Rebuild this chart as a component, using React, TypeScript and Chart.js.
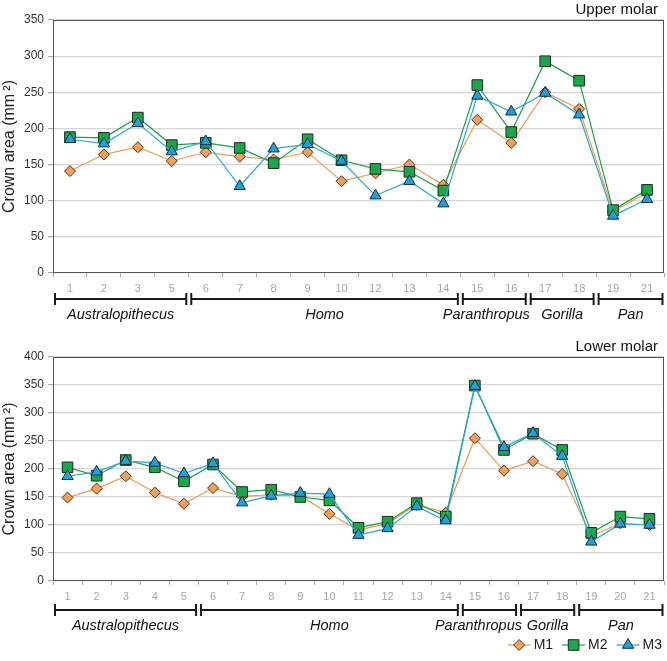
import React, { useEffect, useRef } from 'react';
import { Chart, registerables } from 'chart.js';

Chart.register(...registerables);

const FONT = "'Liberation Sans', Arial, Helvetica, sans-serif";
Chart.defaults.font.family = FONT;

// ---------- data ----------
const upperCategories = ['1', '2', '3', '5', '6', '7', '8', '9', '10', '12', '13', '14', '15', '16', '17', '18', '19', '21'];
const upperM1 = [141, 164, 174, 155, 167, 161, 157, 167, 127, 138, 150, 122, 212, 180, 250, 227, 85, 111];
const upperM2 = [188, 187, 215, 177, 180, 173, 152, 185, 156, 144, 140, 114, 260, 195, 293, 266, 87, 115];
const upperM3 = [185, 179, 207, 168, 182, 120, 172, 178, 155, 107, 127, 96, 245, 223, 249, 219, 79, 102];

const lowerCategories = ['1', '2', '3', '4', '5', '6', '7', '8', '9', '10', '11', '12', '13', '14', '15', '16', '17', '18', '19', '20', '21'];
const lowerM1 = [149, 165, 187, 158, 138, 166, 151, 154, 152, 120, 91, 103, 136, 122, 255, 197, 214, 191, 80, 103, 100];
const lowerM2 = [203, 188, 216, 203, 178, 208, 159, 163, 150, 144, 95, 106, 139, 115, 349, 234, 263, 234, 86, 115, 111];
const lowerM3 = [187, 195, 214, 211, 192, 210, 140, 152, 157, 155, 82, 94, 133, 108, 348, 239, 264, 223, 70, 102, 100];

const genusNames = ['Australopithecus', 'Homo', 'Paranthropus', 'Gorilla', 'Pan'];
const upperGenusEnds = [3, 11, 13, 15, 17];
const lowerGenusEnds = [4, 13, 15, 17, 20];

const seriesNames = ['M1', 'M2', 'M3'];
const yAxisTitle = 'Crown area (mm\u2009²)';

// ---------- styles ----------
const seriesLine = ['#EE9A4D', '#1E9E4A', '#2BA6D6'];
const seriesFill = ['#F2A05A', '#1AA64B', '#1EA2DC'];
const seriesEdge = ['#4a3320', '#17301f', '#14283f'];
const seriesShape = ['rectRot', 'rect', 'triangle'];
const seriesRadius = [5.5, 7.5, 6.5];
const upperLabelShift = [0, 0, -8, 0, 0];
const lowerLabelShift = [0, 0, -11, 0, 0];

function drawMarker(ctx: CanvasRenderingContext2D, shape: string, x: number, y: number, r: number) {
  ctx.beginPath();
  if (shape === 'rectRot') {
    ctx.moveTo(x, y - r);
    ctx.lineTo(x + r, y);
    ctx.lineTo(x, y + r);
    ctx.lineTo(x - r, y);
  } else if (shape === 'rect') {
    const s = r * Math.SQRT1_2;
    ctx.rect(x - s, y - s, 2 * s, 2 * s);
  } else {
    const a = (2 * Math.PI) / 3;
    ctx.moveTo(x, y - r);
    ctx.lineTo(x + Math.sin(a) * r, y - Math.cos(a) * r);
    ctx.lineTo(x + Math.sin(2 * a) * r, y - Math.cos(2 * a) * r);
  }
  ctx.closePath();
  ctx.fill();
  ctx.stroke();
}

const decorPlugin = {
  id: 'decor',
  afterDraw(chart: any, _args: any, opts: any) {
    const { ctx, chartArea } = chart;
    const xs = chart.scales.x;
    ctx.save();
    // frame
    ctx.strokeStyle = '#555';
    ctx.lineWidth = 1;
    ctx.strokeRect(
      Math.round(chartArea.left) + 0.5,
      Math.round(chartArea.top) + 0.5,
      Math.round(chartArea.right - chartArea.left) - 1,
      Math.round(chartArea.bottom - chartArea.top) - 1
    );
    // title
    ctx.font = `15px ${FONT}`;
    ctx.fillStyle = '#111';
    ctx.textAlign = 'right';
    ctx.textBaseline = 'alphabetic';
    ctx.fillText(opts.title, chartArea.right - 6, chartArea.top - 6.5);

    // genus brackets
    const step = xs.getPixelForValue(1) - xs.getPixelForValue(0);
    const ends: number[] = opts.ends;
    const last = ends[ends.length - 1];
    const by = chartArea.bottom + opts.bracketOffset;
    const ly = chartArea.bottom + opts.labelOffset;
    let start = 0;
    ctx.strokeStyle = '#1a1a1a';
    ctx.lineWidth = 2;
    ends.forEach((end, i) => {
      const x0 = start === 0 ? chartArea.left + 2 : xs.getPixelForValue(start) - step / 2 + 2.5;
      const x1 = end === last ? chartArea.right - 1.5 : xs.getPixelForValue(end) + step / 2 - 2.5;
      ctx.beginPath();
      ctx.moveTo(x0, by);
      ctx.lineTo(x1, by);
      ctx.moveTo(x0, by - 6);
      ctx.lineTo(x0, by + 6);
      ctx.moveTo(x1, by - 6);
      ctx.lineTo(x1, by + 6);
      ctx.stroke();
      ctx.font = `italic 14.5px ${FONT}`;
      ctx.fillStyle = '#111';
      ctx.textAlign = 'center';
      ctx.textBaseline = 'middle';
      ctx.fillText(opts.names[i], (x0 + x1) / 2 + opts.shifts[i], ly);
      start = end + 1;
    });

    // legend
    if (opts.legend) {
      ctx.font = `14px ${FONT}`;
      const lineLen = 23;
      const gapText = 3;
      const gapItem = 9;
      const widths = seriesNames.map((n) => lineLen + gapText + ctx.measureText(n).width);
      const total = widths.reduce((a, b) => a + b, 0) + gapItem * (widths.length - 1);
      let x = chartArea.right - 2 - total;
      const y = chartArea.bottom + opts.legendOffset;
      seriesNames.forEach((n, i) => {
        ctx.strokeStyle = seriesLine[i];
        ctx.lineWidth = 1.2;
        ctx.beginPath();
        ctx.moveTo(x, y);
        ctx.lineTo(x + lineLen, y);
        ctx.stroke();
        ctx.fillStyle = seriesFill[i];
        ctx.strokeStyle = seriesEdge[i];
        ctx.lineWidth = 1;
        drawMarker(ctx, seriesShape[i], x + lineLen / 2, y, seriesRadius[i]);
        ctx.fillStyle = '#222';
        ctx.textAlign = 'left';
        ctx.textBaseline = 'middle';
        ctx.fillText(n, x + lineLen + gapText, y + 0.5);
        x += widths[i] + gapItem;
      });
    }
    ctx.restore();
  },
};

type Props = {
  categories: string[];
  series: number[][];
  yMax: number;
  ends: number[];
  shifts: number[];
  title: string;
  height: number;
  padTop: number;
  xAxisHeight: number;
  bracketOffset: number;
  labelOffset: number;
  legend: boolean;
};

function MolarChart(p: Props) {
  const ref = useRef<HTMLCanvasElement>(null);
  useEffect(() => {
    const chart = new Chart(ref.current as HTMLCanvasElement, {
      type: 'line',
      data: {
        labels: p.categories,
        datasets: p.series.map((vals, i) => ({
          label: seriesNames[i],
          data: vals,
          borderColor: seriesLine[i],
          borderWidth: 1.2,
          backgroundColor: seriesFill[i],
          pointStyle: seriesShape[i] as any,
          pointRadius: seriesRadius[i],
          pointBackgroundColor: seriesFill[i],
          pointBorderColor: seriesEdge[i],
          pointBorderWidth: 1,
          tension: 0,
          fill: false,
          order: 3 - i,
        })),
      },
      options: {
        animation: false,
        responsive: false,
        events: [],
        layout: { autoPadding: false, padding: { top: p.padTop, right: 3, left: 0, bottom: 0 } },
        plugins: {
          legend: { display: false },
          tooltip: { enabled: false },
          decor: {
            title: p.title,
            ends: p.ends,
            shifts: p.shifts,
            names: genusNames,
            bracketOffset: p.bracketOffset,
            labelOffset: p.labelOffset,
            legend: p.legend,
            legendOffset: 64,
          },
        } as any,
        scales: {
          x: {
            offset: true,
            ticks: { color: '#a6a6a6', font: { size: 11 }, padding: 5, autoSkip: false, maxRotation: 0 },
            grid: { offset: true, drawOnChartArea: false, tickLength: 4, color: '#aaa' },
            border: { display: false },
            afterFit: (s: any) => {
              s.height = p.xAxisHeight;
              s.paddingLeft = 0;
              s.paddingRight = 0;
            },
          },
          y: {
            min: 0,
            max: p.yMax,
            ticks: { stepSize: 50, color: '#333', font: { size: 12 }, padding: 4 },
            grid: { color: '#d6d6d6', lineWidth: 1.2, tickLength: 5, tickColor: '#aaa' },
            border: { display: false },
            title: { display: true, text: yAxisTitle, color: '#222', font: { size: 16 }, padding: 0 },
            afterFit: (s: any) => {
              s.width = 53;
            },
          },
        },
      },
      plugins: [decorPlugin],
    });
    return () => chart.destroy();
  }, []);
  return <canvas ref={ref} width={667} height={p.height} style={{ display: 'block' }} />;
}

export default function App() {
  return (
    <div style={{ position: 'absolute', left: 0, top: 0, width: 667, height: 661, background: '#fff' }}>
      <MolarChart
        categories={upperCategories}
        series={[upperM1, upperM2, upperM3]}
        yMax={350}
        ends={upperGenusEnds}
        shifts={upperLabelShift}
        title="Upper molar"
        height={330}
        padTop={20}
        xAxisHeight={57}
        bracketOffset={26}
        labelOffset={41.5}
        legend={false}
      />
      <MolarChart
        categories={lowerCategories}
        series={[lowerM1, lowerM2, lowerM3]}
        yMax={400}
        ends={lowerGenusEnds}
        shifts={lowerLabelShift}
        title="Lower molar"
        height={331}
        padTop={27}
        xAxisHeight={80}
        bracketOffset={29}
        labelOffset={44.5}
        legend={true}
      />
    </div>
  );
}
